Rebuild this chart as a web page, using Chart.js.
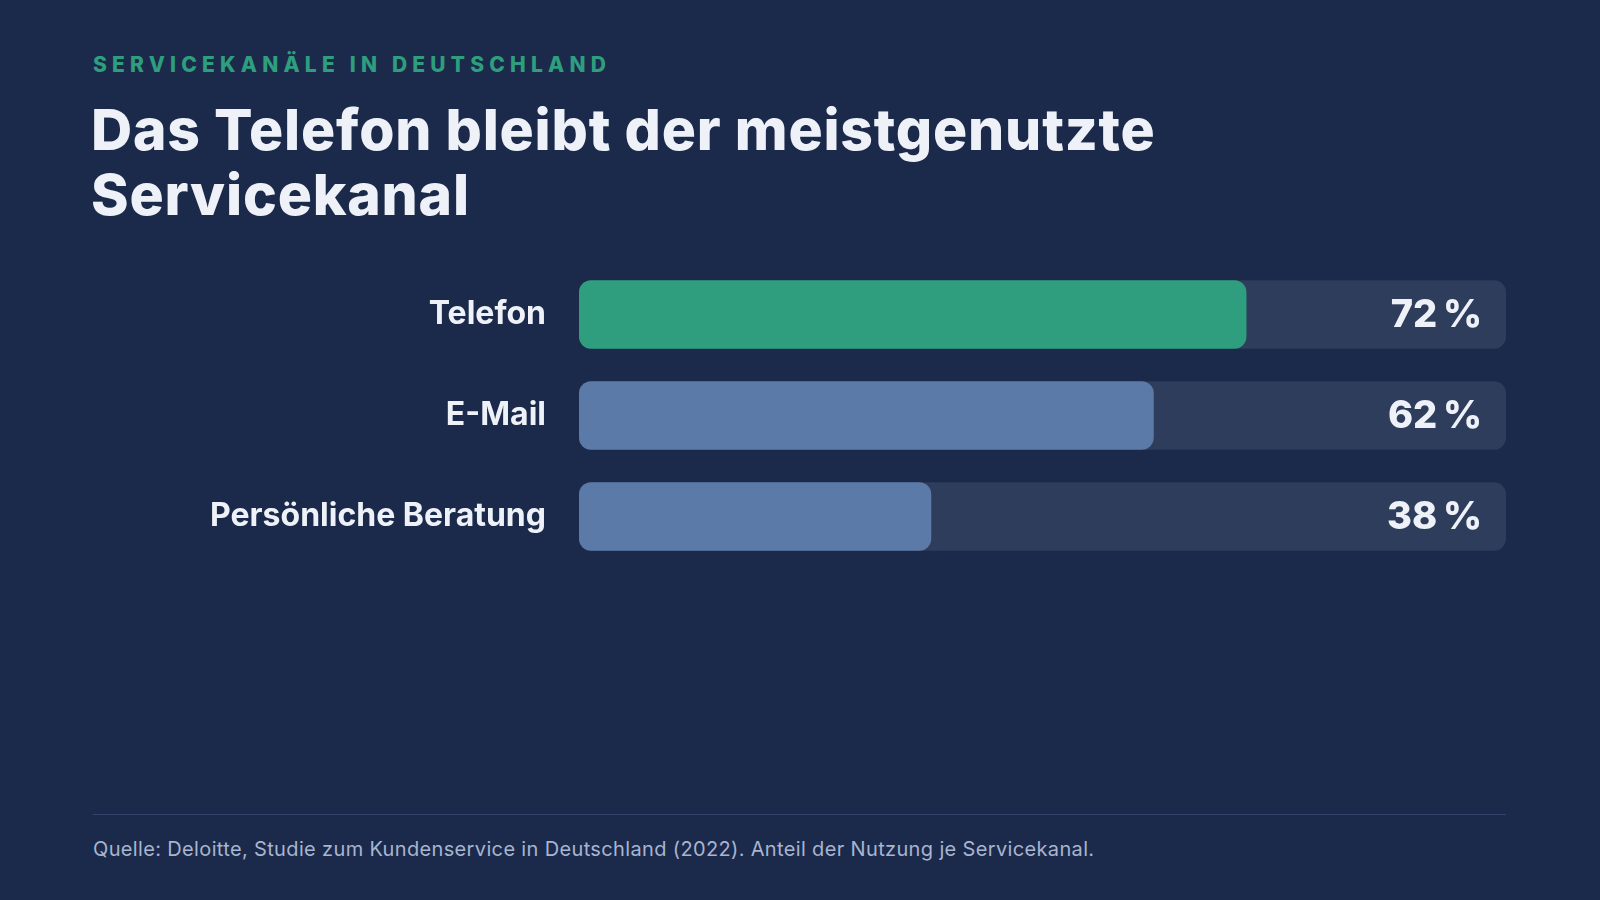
<!DOCTYPE html>
<html lang="de">
<head>
<meta charset="utf-8">
<title>Servicekanäle in Deutschland</title>
<script src="https://cdn.jsdelivr.net/npm/chart.js@4.4.1/dist/chart.umd.min.js"></script>
<style>
    html, body {
        margin: 0;
        padding: 0;
        background: #1b2a4a;
        width: 1600px;
        height: 900px;
        overflow: hidden;
        font-family: "Inter", "Noto Sans", sans-serif;
    }
    .kicker {
        position: absolute;
        left: 93px;
        top: 52px;
        color: #2e9e7e;
        font-size: 21px;
        font-weight: 800;
        letter-spacing: 5.2px;
    }
    h1 {
        position: absolute;
        left: 91px;
        top: 97px;
        margin: 0;
        color: #eef2f8;
        font-size: 57px;
        font-weight: 800;
        line-height: 65px;
        letter-spacing: 0.8px;
    }
    #serviceChart {
        position: absolute;
        left: 93px;
        top: 264px;
    }
    .divider {
        position: absolute;
        left: 93px;
        top: 814px;
        width: 1413px;
        height: 1px;
        background: #34436a;
    }
    .source {
        position: absolute;
        left: 93px;
        top: 837px;
        color: #a8b4d0;
        font-size: 20px;
        letter-spacing: 0.35px;
    }
</style>
</head>
<body>
<div class="kicker">SERVICEKANÄLE IN DEUTSCHLAND</div>
<h1>Das Telefon bleibt der meistgenutzte<br>Servicekanal</h1>
<canvas id="serviceChart" width="1413" height="303"></canvas>
<div class="divider"></div>
<div class="source">Quelle: Deloitte, Studie zum Kundenservice in Deutschland (2022). Anteil der Nutzung je Servicekanal.</div>

<script>
const channels = ["Telefon", "E-Mail", "Persönliche Beratung"];
const usageShare = [72, 62, 38];
const trackValues = [100, 100, 100];
const barColors = ["#2e9e7e", "#5b7aa8", "#5b7aa8"];

document.addEventListener("DOMContentLoaded", () => {
    const ctx = document.getElementById("serviceChart").getContext("2d");

    // writes "72 %" etc. at the right end of each grey track
    const valueLabels = {
        id: "valueLabels",
        afterDatasetsDraw(chart) {
            const c = chart.ctx;
            const xScale = chart.scales.x;
            const yScale = chart.scales.y;
            c.save();
            c.font = "800 38px Inter, 'Noto Sans', sans-serif";
            c.fillStyle = "#eef2f8";
            c.textAlign = "right";
            c.textBaseline = "middle";
            usageShare.forEach((v, i) => {
                const x = xScale.getPixelForValue(100) - 24;
                const y = yScale.getPixelForValue(i) + 1;
                c.fillText(v + "\u2009%", x, y);
            });
            c.restore();
        }
    };

    new Chart(ctx, {
        type: "bar",
        data: {
            labels: channels,
            datasets: [
                {
                    label: "Nutzung",
                    data: usageShare,
                    backgroundColor: barColors,
                    borderRadius: 12,
                    borderSkipped: false,
                    categoryPercentage: 1,
                    barPercentage: 0.68,
                    grouped: false,
                    order: 0
                },
                {
                    label: "Gesamt",
                    data: trackValues,
                    backgroundColor: "#2f3d5c",
                    borderRadius: 12,
                    borderSkipped: false,
                    categoryPercentage: 1,
                    barPercentage: 0.68,
                    grouped: false,
                    order: 1
                }
            ]
        },
        options: {
            indexAxis: "y",
            responsive: false,
            animation: false,
            layout: { padding: 0 },
            plugins: {
                legend: { display: false },
                tooltip: { enabled: false }
            },
            scales: {
                x: {
                    display: false,
                    min: 0,
                    max: 100
                },
                y: {
                    grid: { display: false, drawTicks: false },
                    border: { display: false },
                    ticks: {
                        color: "#eef2f8",
                        padding: 33,
                        font: { family: "Inter, 'Noto Sans', sans-serif", size: 32, weight: "700" }
                    },
                    afterFit: (scale) => {
                        // fixed label column, no extra top/bottom padding from the tick padding
                        scale.width = 486;
                        scale.paddingTop = 0;
                        scale.paddingBottom = 0;
                    }
                }
            }
        },
        plugins: [valueLabels]
    });
});
</script>
</body>
</html>
